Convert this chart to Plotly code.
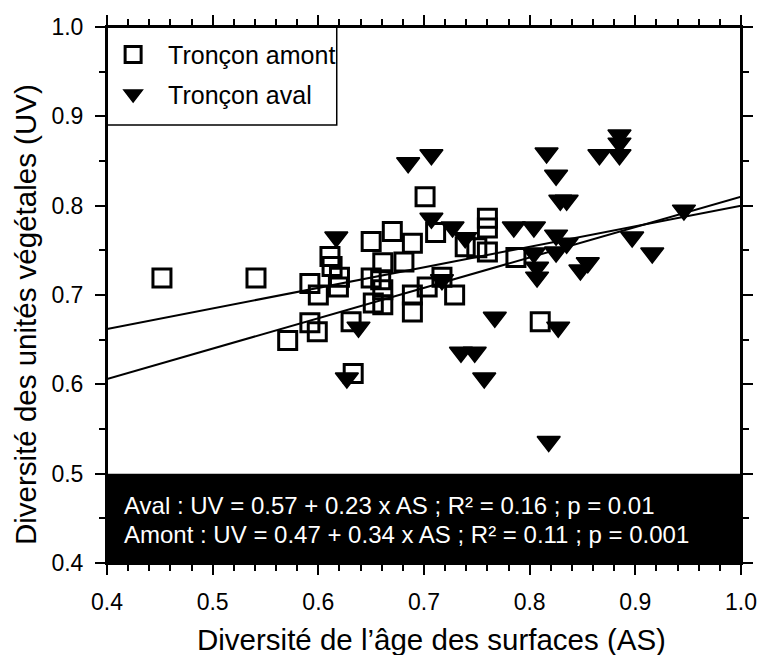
import numpy as np
import plotly.graph_objects as go

# Tronçon amont (squares)
amont_as = [0.452, 0.541, 0.571, 0.701, 0.711, 0.670, 0.650, 0.689, 0.611, 0.613,
            0.620, 0.592, 0.619, 0.600, 0.650, 0.661, 0.659, 0.661, 0.652, 0.661,
            0.681, 0.689, 0.689, 0.703, 0.592, 0.599, 0.631, 0.633, 0.760, 0.760,
            0.739, 0.750, 0.760, 0.787, 0.729, 0.717, 0.810]
amont_uv = [0.719, 0.719, 0.649, 0.810, 0.770, 0.771, 0.760, 0.758, 0.743, 0.732,
            0.720, 0.713, 0.709, 0.700, 0.719, 0.736, 0.717, 0.706, 0.691, 0.689,
            0.737, 0.700, 0.681, 0.709, 0.669, 0.659, 0.670, 0.612, 0.786, 0.775,
            0.754, 0.753, 0.748, 0.742, 0.700, 0.720, 0.670]

# Tronçon aval (down triangles)
aval_as = [0.627, 0.617, 0.707, 0.638, 0.717, 0.727, 0.685, 0.707, 0.739, 0.735,
           0.748, 0.757, 0.767, 0.816, 0.825, 0.829, 0.835, 0.866, 0.785, 0.804,
           0.825, 0.835, 0.825, 0.804, 0.807, 0.807, 0.848, 0.855, 0.885, 0.885,
           0.885, 0.946, 0.897, 0.916, 0.827, 0.818]
aval_uv = [0.607, 0.765, 0.786, 0.664, 0.717, 0.776, 0.848, 0.857, 0.764, 0.636,
           0.636, 0.607, 0.675, 0.859, 0.834, 0.806, 0.806, 0.857, 0.776, 0.776,
           0.767, 0.758, 0.748, 0.747, 0.731, 0.720, 0.728, 0.736, 0.879, 0.870,
           0.857, 0.795, 0.765, 0.747, 0.664, 0.536]

# Regression coefficients (intercept, slope)
aval_fit = (0.57, 0.23)
amont_fit = (0.47, 0.34)
fit_x = np.array([0.4, 1.0])

aval_text = "Aval : UV = 0.57 + 0.23 x AS ; R² = 0.16 ; p = 0.01"
amont_text = "Amont : UV = 0.47 + 0.34 x AS ; R² = 0.11 ; p = 0.001"
x_title = "Diversité de l’âge des surfaces (AS)"
y_title = "Diversité des unités végétales (UV)"

FONT = "Liberation Sans, Arial, sans-serif"

fig = go.Figure()

fig.add_trace(go.Scatter(
    x=fit_x, y=aval_fit[0] + aval_fit[1] * fit_x, mode="lines",
    line=dict(color="black", width=2), showlegend=False, hoverinfo="skip"))
fig.add_trace(go.Scatter(
    x=fit_x, y=amont_fit[0] + amont_fit[1] * fit_x, mode="lines",
    line=dict(color="black", width=2), showlegend=False, hoverinfo="skip"))

fig.add_trace(go.Scatter(
    x=amont_as, y=amont_uv, mode="markers", name="Tronçon amont",
    legendgroup="amont",
    marker=dict(symbol="square-open", size=18, color="black",
                line=dict(width=3, color="black"))))
fig.add_trace(go.Scatter(
    x=aval_as, y=aval_uv, mode="markers", name="Tronçon aval",
    legendgroup="aval",
    marker=dict(symbol="triangle-down", size=20, color="black",
                line=dict(width=1.5, color="black"))))

# Black band holding the regression equations
fig.add_shape(type="rect", xref="x", yref="y", x0=0.4, x1=1.0, y0=0.4, y1=0.5,
              fillcolor="black", line=dict(width=0), layer="above")
fig.add_annotation(x=0.414, y=0.464, xref="x", yref="y", text=aval_text,
                   showarrow=False, xanchor="left", yanchor="middle",
                   font=dict(family=FONT, size=24, color="white"))
fig.add_annotation(x=0.414, y=0.432, xref="x", yref="y", text=amont_text,
                   showarrow=False, xanchor="left", yanchor="middle",
                   font=dict(family=FONT, size=24, color="white"))

# Legend frame in the upper-left corner of the plot area
fig.add_shape(type="rect", xref="paper", yref="paper",
              x0=0, x1=233 / 643, y0=1 - 98 / 536, y1=1,
              fillcolor="white", line=dict(color="black", width=1.5),
              layer="above")

# Closed frame round the plot area
fig.add_shape(type="rect", xref="paper", yref="paper", x0=0, x1=1, y0=0, y1=1,
              line=dict(color="black", width=2), layer="above")

# Axis titles
fig.add_annotation(x=0.512, y=-0.142, xref="paper", yref="paper", text=x_title,
                   showarrow=False, xanchor="center", yanchor="middle",
                   font=dict(family=FONT, size=29.5, color="black"))
fig.add_annotation(x=-0.1275, y=0.463, xref="paper", yref="paper", text=y_title,
                   showarrow=False, xanchor="center", yanchor="middle",
                   textangle=-90,
                   font=dict(family=FONT, size=29.5, color="black"))

axis_common = dict(
    showline=True, linecolor="black", linewidth=2, mirror="ticks",
    ticks="outside", ticklen=10, tickwidth=2, tickcolor="black",
    showgrid=False, zeroline=False, tickformat=".1f",
    tickfont=dict(family=FONT, size=23, color="black"),
    ticklabelstandoff=7,
)

fig.update_xaxes(range=[0.4, 1.0], dtick=0.1, tick0=0.4,
                 minor=dict(dtick=0.02, ticks="outside", ticklen=6, tickwidth=2,
                            tickcolor="black"),
                 automargin=False, ticklabeloverflow="allow",
                 **axis_common)
fig.update_yaxes(range=[0.4, 1.0], dtick=0.1, tick0=0.4,
                 minor=dict(dtick=0.05, ticks="outside", ticklen=6, tickwidth=2,
                            tickcolor="black"),
                 **axis_common)

fig.update_layout(
    width=765, height=655,
    margin=dict(l=107, r=15, t=27, b=92),
    plot_bgcolor="white", paper_bgcolor="white",
    font=dict(family=FONT, color="black"),
    legend=dict(x=-0.014, y=0.991, xanchor="left", yanchor="top",
                bgcolor="rgba(0,0,0,0)", borderwidth=0,
                font=dict(family=FONT, size=25, color="black"),
                itemsizing="trace", itemwidth=60,
                traceorder="grouped", tracegroupgap=4),
)

fig.write_html("out.html")
